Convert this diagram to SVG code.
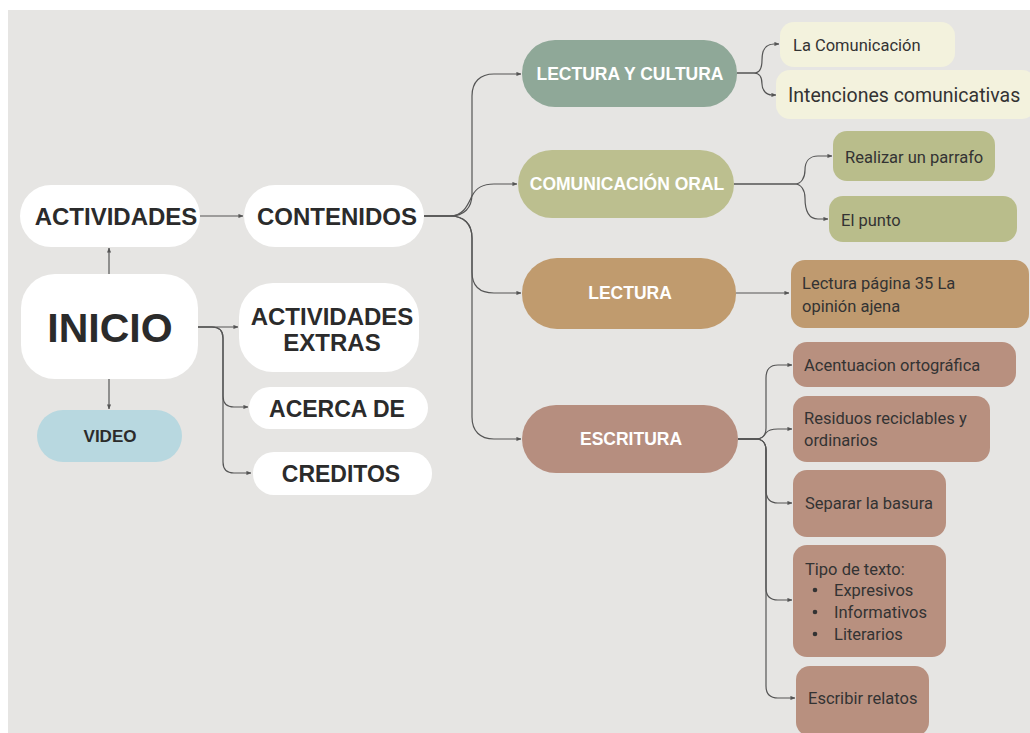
<svg xmlns="http://www.w3.org/2000/svg" width="1030" height="733" viewBox="0 0 1030 733">
<defs>
<marker id="ah" viewBox="0 0 6 6" refX="5.5" refY="3" markerWidth="5" markerHeight="5" markerUnits="userSpaceOnUse" orient="auto">
<path d="M0,0.5 L6,3 L0,5.5 z" fill="#555"/>
</marker>
<style>
.bold{font-family:"Liberation Sans",Arial,sans-serif;font-weight:bold;fill:#2b2b2b;text-anchor:middle;dominant-baseline:central}
.wb{font-family:"Liberation Sans",Arial,sans-serif;font-weight:bold;fill:#ffffff;text-anchor:middle;dominant-baseline:central;font-size:17.5px}
.ch{font-family:Roboto,"Liberation Sans",sans-serif;fill:#333333;font-size:16.5px;dominant-baseline:central}
.c{fill:none;stroke:#555;stroke-width:1.2;marker-end:url(#ah)}
.w{fill:#ffffff}
</style>
</defs>
<rect x="0" y="0" width="1030" height="733" fill="#ffffff"/>
<rect x="8" y="10" width="1022" height="723" fill="#e6e5e3"/>

<g id="connectors">
<path class="c" d="M200,216 H243"/>
<path class="c" d="M109,274 V248"/>
<path class="c" d="M109,379 V409"/>
<path class="c" d="M194,327 H238"/>
<path class="c" d="M194,327 H212 Q223,327 223,338 V396 Q223,407 234,407 H248"/>
<path class="c" d="M194,327 H212 Q223,327 223,338 V462 Q223,473 234,473 H251"/>
<path class="c" d="M424,216 H450 C464,216 472,208 472,194 V96 C472,82 480,74 494,74 H521"/>
<path class="c" d="M424,216 H450 C464,216 468,204 472,196 C476,188 482,184 494,184 H517"/>
<path class="c" d="M424,216 H450 C464,216 472,224 472,238 V272 C472,286 480,293 494,293 H521"/>
<path class="c" d="M424,216 H450 C464,216 472,224 472,238 V417 C472,431 480,439 494,439 H521"/>
<path class="c" d="M737,73 H754 C760,73 762,68 762,60 C762,50 766,44 774,44 H779"/>
<path class="c" d="M737,73 H754 C760,73 762,78 762,84 C762,90 766,95 772,95 H776"/>
<path class="c" d="M734,184 H795 C801,184 805,178 805,170 C805,161 810,156 818,156 H832"/>
<path class="c" d="M734,184 H795 C801,184 805,190 805,198 C805,212 810,219 818,219 H828"/>
<path class="c" d="M736,293 H789"/>
<path class="c" d="M738,439 H756 C762,439 766,435 766,428 V378 C766,370 770,365 778,365 H792"/>
<path class="c" d="M738,439 H756 C762,439 764,436 766,433 C768,430 772,429 778,429 H792"/>
<path class="c" d="M738,439 H756 C762,439 766,443 766,450 V490 C766,498 770,503 778,503 H792"/>
<path class="c" d="M738,439 H756 C762,439 766,443 766,450 V588 C766,596 770,600 778,600 H792"/>
<path class="c" d="M738,439 H756 C762,439 766,443 766,450 V686 C766,694 770,698 778,698 H795"/>
</g>

<g id="actividades"><rect class="w" x="20" y="185" width="180" height="62" rx="31"/><text class="bold" x="116" y="216" font-size="24">ACTIVIDADES</text></g>
<g id="contenidos"><rect class="w" x="244" y="185" width="180" height="62" rx="31"/><text class="bold" x="337" y="216" font-size="24">CONTENIDOS</text></g>
<g id="inicio"><rect class="w" x="21" y="274" width="177" height="105" rx="34"/><text class="bold" x="110" y="328" font-size="41">INICIO</text></g>
<g id="video"><rect x="37" y="410" width="145" height="52" rx="26" fill="#b8d8e0"/><text class="bold" x="110" y="436" font-size="17">VIDEO</text></g>
<g id="actividades-extras"><rect class="w" x="239" y="283" width="180" height="89" rx="34"/><text class="bold" x="332" y="316" font-size="24">ACTIVIDADES</text><text class="bold" x="332" y="342" font-size="24">EXTRAS</text></g>
<g id="acerca-de"><rect class="w" x="249" y="387" width="179" height="42" rx="21"/><text class="bold" x="337" y="409" font-size="23">ACERCA DE</text></g>
<g id="creditos"><rect class="w" x="253" y="452" width="179" height="43" rx="21"/><text class="bold" x="341" y="474" font-size="23">CREDITOS</text></g>

<g id="lectura-y-cultura"><rect x="522" y="40" width="215" height="67" rx="33" fill="#8fa898"/><text class="wb" x="630" y="74">LECTURA Y CULTURA</text></g>
<g id="comunicacion-oral"><rect x="518" y="150" width="216" height="68" rx="34" fill="#bcbf8f"/><text class="wb" x="627" y="184">COMUNICACIÓN ORAL</text></g>
<g id="lectura"><rect x="522" y="258" width="214" height="71" rx="35" fill="#c09b6e"/><text class="wb" x="630" y="293">LECTURA</text></g>
<g id="escritura"><rect x="522" y="405" width="216" height="68" rx="34" fill="#b68e7f"/><text class="wb" x="631" y="439">ESCRITURA</text></g>

<g id="la-comunicacion"><rect x="780" y="22" width="175" height="45" rx="14" fill="#f3f2dd"/><text class="ch" x="793" y="45">La Comunicación</text></g>
<g id="intenciones"><rect x="776" y="70" width="260" height="49" rx="14" fill="#f3f2dd"/><text class="ch" x="788" y="95" style="font-size:19.5px">Intenciones comunicativas</text></g>
<g id="realizar-parrafo"><rect x="833" y="131" width="162" height="50" rx="14" fill="#b9bd8b"/><text class="ch" x="845" y="157">Realizar un parrafo</text></g>
<g id="el-punto"><rect x="829" y="196" width="188" height="46" rx="14" fill="#b9bd8b"/><text class="ch" x="841" y="220">El punto</text></g>
<g id="lectura-pagina"><rect x="791" y="260" width="238" height="68" rx="14" fill="#bf9a6f"/><text class="ch" x="802" y="283">Lectura página 35 La</text><text class="ch" x="802" y="306">opinión ajena</text></g>
<g id="acentuacion"><rect x="793" y="342" width="223" height="45" rx="14" fill="#b8907f"/><text class="ch" x="804" y="365">Acentuacion ortográfica</text></g>
<g id="residuos"><rect x="793" y="396" width="197" height="66" rx="14" fill="#b8907f"/><text class="ch" x="804" y="418">Residuos reciclables y</text><text class="ch" x="804" y="440">ordinarios</text></g>
<g id="separar"><rect x="793" y="470" width="153" height="67" rx="14" fill="#b8907f"/><text class="ch" x="805" y="503">Separar la basura</text></g>
<g id="tipo-texto"><rect x="793" y="545" width="153" height="112" rx="14" fill="#b8907f"/><text class="ch" x="805" y="569">Tipo de texto:</text><circle cx="815" cy="590" r="2.3" fill="#333"/><circle cx="815" cy="612" r="2.3" fill="#333"/><circle cx="815" cy="634" r="2.3" fill="#333"/><text class="ch" x="834" y="590">Expresivos</text><text class="ch" x="834" y="612">Informativos</text><text class="ch" x="834" y="634">Literarios</text></g>
<g id="escribir-relatos"><rect x="796" y="666" width="133" height="70" rx="14" fill="#b8907f"/><text class="ch" x="808" y="698">Escribir relatos</text></g>
</svg>
